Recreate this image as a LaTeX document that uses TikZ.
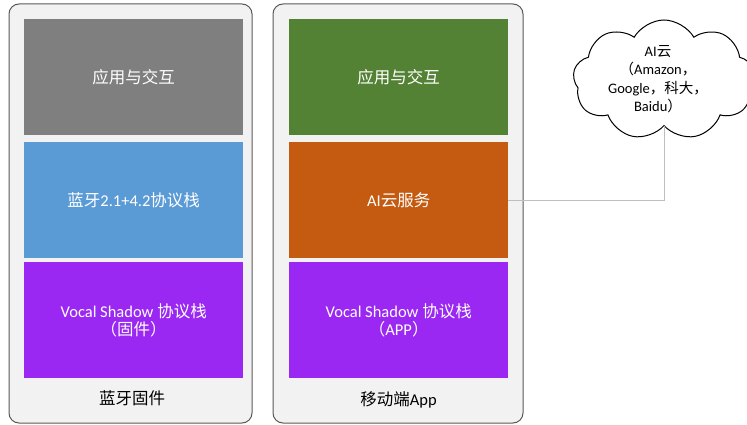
\documentclass[tikz,border=0pt]{standalone}
\usepackage{fontspec}
\setmainfont{Carlito}
\newfontfamily\cjk{Noto Sans CJK SC}
\usetikzlibrary{shapes.symbols}
\definecolor{outerfill}{HTML}{F2F2F2}
\definecolor{outerline}{HTML}{595959}
\definecolor{cgray}{HTML}{7F7F7F}
\definecolor{cblue}{HTML}{5B9BD5}
\definecolor{cpurple}{HTML}{9A27F2}
\definecolor{cgreen}{HTML}{548235}
\definecolor{corange}{HTML}{C55A11}
\definecolor{linkc}{HTML}{BFBFBF}
\newcommand{\zh}[1]{{\cjk\fontsize{16.5}{20}\selectfont #1}}
\newcommand{\zs}[1]{{\cjk\fontsize{14.5}{18.5}\selectfont #1}}
\begin{document}
\begin{tikzpicture}[x=1pt,y=-1pt,
  outerbox/.style={draw=outerline, fill=outerfill, line width=1pt, rounded corners=10pt},
  layer/.style={rectangle, minimum width=219pt, minimum height=116pt, inner sep=0pt,
    text=white, align=center, font=\fontsize{16.5}{20}\selectfont, anchor=north west},
  caption/.style={text=black, font=\fontsize{16.5}{20}\selectfont},
  link/.style={draw=linkc, line width=1pt}]
\useasboundingbox (0,0) rectangle (747,425);
\draw[outerbox] (9,4) rectangle (252,423);
\draw[outerbox] (273,4) rectangle (523,423);
% left stack
\node[layer, fill=cgray] (lapp) at (24,19) {\zh{应用与交互}};
\node[layer, fill=cblue] (lbt) at (24,142) {\zh{蓝牙}2.1+4.2\zh{协议栈}};
\node[layer, fill=cpurple] (lvs) at (24,262) {Vocal Shadow \zh{协议栈}\\[-2pt]\zh{（固件）}};
\node[caption] (lcap) at (132,398) {\zh{蓝牙固件}};
% right stack
\node[layer, fill=cgreen] (rapp) at (289,19) {\zh{应用与交互}};
\node[layer, fill=corange] (rai) at (289,142) {AI\zh{云服务}};
\node[layer, fill=cpurple] (rvs) at (289,262) {Vocal Shadow \zh{协议栈}\\[-2pt]\zh{（}APP\zh{）}};
\node[caption] (rcap) at (398.5,400) {\zh{移动端}App};
% cloud
\node[cloud, draw=black, fill=white, line width=1pt, cloud puffs=9, cloud puff arc=120,
  cloud ignores aspect, minimum width=182pt, minimum height=120pt, inner sep=0pt] (cloud) at (664,80) {};
\node[align=center, font=\fontsize{14.5}{18.5}\selectfont, inner sep=0pt] (cloudtext) at (658,79)
  {AI\zs{云}\\\zs{（}Amazon\zs{，}\\Google\zs{，科大，}\\Baidu\zs{）}};
\draw[link] (rai.east) -| (cloud.south);
\end{tikzpicture}
\end{document}
